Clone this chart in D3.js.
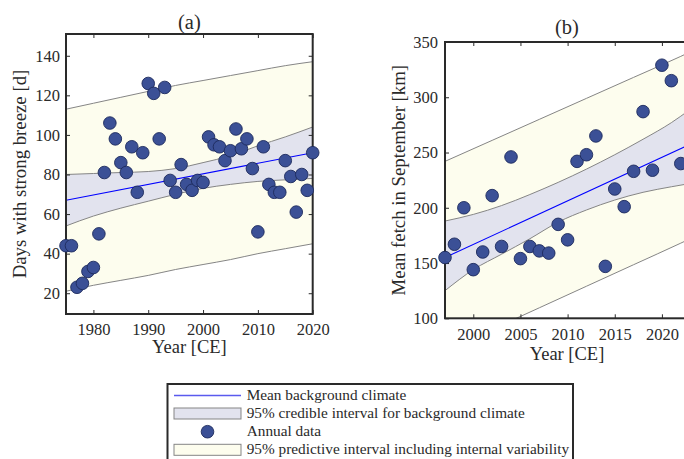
<!DOCTYPE html>
<html><head><meta charset="utf-8">
<script src="https://cdn.jsdelivr.net/npm/d3@7"></script>
<style>
body{margin:0;background:#fff}
svg{display:block}
text{font-family:"Liberation Serif","Times New Roman",serif}
</style>
</head><body>
<svg id="c" width="684" height="459"></svg>
<script>
// ---------- Panel (a): days with strong breeze ----------
const yearsA = [1975,1976,1977,1978,1979,1980,1981,1982,1983,1984,1985,1986,1987,1988,1989,1990,1991,1992,1993,1994,1995,1996,1997,1998,1999,2000,2001,2002,2003,2004,2005,2006,2007,2008,2009,2010,2011,2012,2013,2014,2015,2016,2017,2018,2019,2020];
const breezeDays = [44,44,23,25,31,33,50,81,106,98,86,81,94,71,91,126,121,98,124,77,71,85,75,72,77,76,99,95,94,87,92,103,93,98,83,51,94,75,71,71,87,79,61,80,72,91];
const meanYearsA = [1975, 2020];
const meanA = [67, 91];
const bandYearsA = [1975,1980,1985,1990,1995,2000,2005,2010,2015,2020];
const ciUpperA = [80,80.5,81,81.5,83,86,89.5,94.5,99,104];
const ciLowerA = [54,59,63,66.5,70,73,75,76.5,77.3,78];
const piUpperA = [113,116,119,122,125,127.5,130,132.5,135,137];
const piLowerA = [21,24,26.5,29,32,34.5,37,40,42.5,45];
const xTicksA = [1980,1990,2000,2010,2020];
const yTicksA = [20,40,60,80,100,120,140];

// ---------- Panel (b): mean fetch in September ----------
const yearsB = [1997,1998,1999,2000,2001,2002,2003,2004,2005,2006,2007,2008,2009,2010,2011,2012,2013,2014,2015,2016,2017,2018,2019,2020,2021,2022];
const fetchKm = [155,167,200,144,160,211,165,246,154,165,161,159,185,171,242,248,265,147,217,201,233,287,234,329,315,240];
const meanYearsB = [1997, 2023];
const meanB = [155, 257.5];
const bandYearsB = [1997,2000,2003,2006,2009,2012,2015,2018,2021,2023];
const ciUpperB = [188,194,202,212,223,235,248,262,277,289];
const ciLowerB = [125,144,158,172,187,198,207,214,219,222];
const bandYearsPB = [1997,2002,2007,2012,2017,2022,2023];
const piUpperB = [242,261,280,299,318,337,341];
const piLowerB = [71,90,109.5,129,148.5,168,172];
const xTicksB = [2000,2005,2010,2015,2020];
const yTicksB = [100,150,200,250,300,350];

// ---------- Legend ----------
const legendLabels = ["Mean background climate","95% credible interval for background climate","Annual data","95% predictive interval including internal variability"];

const COL = {
  pi: "#fdfdee", ci: "#e2e3ee", edge: "#858585", mean: "#0000ff",
  dot: "#3b5096", dotEdge: "#1d2a5c", frame: "#2a2a2a", text: "#2a2a2a"
};

const svg = d3.select("#c");

function drawPanel(p) {
  const x = d3.scaleLinear().domain(p.xDomain).range([p.left, p.right]);
  const y = d3.scaleLinear().domain(p.yDomain).range([p.bottom, p.top]);
  const g = svg.append("g");
  const clipId = "clip" + p.id;
  svg.append("clipPath").attr("id", clipId).append("rect")
    .attr("x", p.left).attr("y", p.top)
    .attr("width", p.right - p.left).attr("height", p.bottom - p.top);
  const bands = g.append("g").attr("clip-path", `url(#${clipId})`);

  const piRows = p.piYears.map((yr, i) => ({yr, lo: p.piLower[i], hi: p.piUpper[i]}));
  const ciRows = p.ciYears.map((yr, i) => ({yr, lo: p.ciLower[i], hi: p.ciUpper[i]}));
  const area = d3.area().x(d => x(d.yr)).y0(d => y(d.lo)).y1(d => y(d.hi)).curve(d3.curveMonotoneX);
  const lineHi = d3.line().x(d => x(d.yr)).y(d => y(d.hi)).curve(d3.curveMonotoneX);
  const lineLo = d3.line().x(d => x(d.yr)).y(d => y(d.lo)).curve(d3.curveMonotoneX);

  bands.append("path").datum(piRows).attr("d", area).attr("fill", COL.pi);
  bands.append("path").datum(ciRows).attr("d", area).attr("fill", COL.ci);
  [[piRows, lineHi], [piRows, lineLo], [ciRows, lineHi], [ciRows, lineLo]].forEach(([rows, ln]) => {
    bands.append("path").datum(rows).attr("d", ln).attr("fill", "none")
      .attr("stroke", COL.edge).attr("stroke-width", 1);
  });
  const meanRows = p.meanYears.map((yr, i) => ({yr, v: p.mean[i]}));
  bands.append("path").datum(meanRows)
    .attr("d", d3.line().x(d => x(d.yr)).y(d => y(d.v)))
    .attr("fill", "none").attr("stroke", COL.mean).attr("stroke-width", 1.1);

  // axes with inward ticks on all four sides
  const fs = 16.5;
  const styleAxis = a => {
    a.select(".domain").remove();
    a.attr("color", COL.frame).attr("font-family", '"Liberation Serif",serif').attr("font-size", fs);
    a.selectAll("text").attr("fill", COL.text);
    a.selectAll("line").attr("stroke-width", 1);
  };
  g.append("g").attr("transform", `translate(0,${p.bottom})`)
    .call(d3.axisBottom(x).tickValues(p.xTicks).tickFormat(d3.format("d")).tickSize(-4).tickPadding(p.xPad))
    .call(styleAxis);
  g.append("g").attr("transform", `translate(0,${p.top})`)
    .call(d3.axisTop(x).tickValues(p.xTicks).tickFormat("").tickSize(-4))
    .call(styleAxis);
  g.append("g").attr("transform", `translate(${p.left},0)`)
    .call(d3.axisLeft(y).tickValues(p.yTicks).tickFormat(d3.format("d")).tickSize(-4).tickPadding(p.yPad))
    .call(styleAxis);
  g.append("g").attr("transform", `translate(${p.right},0)`)
    .call(d3.axisRight(y).tickValues(p.yTicks).tickFormat("").tickSize(-4))
    .call(styleAxis);

  g.append("rect").attr("x", p.left).attr("y", p.top)
    .attr("width", p.right - p.left).attr("height", p.bottom - p.top)
    .attr("fill", "none").attr("stroke", COL.frame).attr("stroke-width", 2);

  // data points
  g.append("g").selectAll("circle").data(p.years.map((yr, i) => ({yr, v: p.values[i]})))
    .join("circle")
    .attr("cx", d => x(d.yr)).attr("cy", d => y(d.v)).attr("r", 6.3)
    .attr("fill", COL.dot).attr("stroke", COL.dotEdge).attr("stroke-width", 0.9);

  // labels
  g.append("text").attr("x", (p.left + p.labelRight) / 2).attr("y", p.titleY)
    .attr("text-anchor", "middle").attr("font-size", 20.5).attr("fill", COL.text).text(p.title);
  g.append("text").attr("x", (p.left + p.labelRight) / 2).attr("y", p.xLabelY)
    .attr("text-anchor", "middle").attr("font-size", 18.5).attr("fill", COL.text).text("Year [CE]");
  g.append("text").attr("transform", `translate(${p.yLabelX},${(p.top + p.bottom) / 2}) rotate(-90)`)
    .attr("text-anchor", "middle").attr("font-size", 18.8).attr("fill", COL.text).text(p.yLabel);
}

drawPanel({
  id: "a", left: 66, right: 312.7, top: 34, bottom: 314, labelRight: 312.7,
  xDomain: [1975, 2020], yDomain: [9.5, 151],
  years: yearsA, values: breezeDays,
  meanYears: meanYearsA, mean: meanA,
  ciYears: bandYearsA, ciUpper: ciUpperA, ciLower: ciLowerA,
  piYears: bandYearsA, piUpper: piUpperA, piLower: piLowerA,
  xTicks: xTicksA, yTicks: yTicksA, xPad: 9, yPad: 6,
  title: "(a)", titleY: 28.5, xLabelY: 353, yLabelX: 26,
  yLabel: "Days with strong breeze [d]"
});

drawPanel({
  id: "b", left: 445, right: 690.2, top: 42, bottom: 318.3, labelRight: 689,
  xDomain: [1997, 2023], yDomain: [100, 350],
  years: yearsB, values: fetchKm,
  meanYears: meanYearsB, mean: meanB,
  ciYears: bandYearsB, ciUpper: ciUpperB, ciLower: ciLowerB,
  piYears: bandYearsPB, piUpper: piUpperB, piLower: piLowerB,
  xTicks: xTicksB, yTicks: yTicksB, xPad: 10, yPad: 7,
  title: "(b)", titleY: 33.8, xLabelY: 360, yLabelX: 404.5,
  yLabel: "Mean fetch in September [km]"
});

// legend
const lg = svg.append("g");
lg.append("rect").attr("x", 167.5).attr("y", 384).attr("width", 405.5).attr("height", 80)
  .attr("fill", "#fff").attr("stroke", COL.frame).attr("stroke-width", 2);
const rowY = [395.5, 413.5, 431.7, 449.8];
lg.append("line").attr("x1", 174).attr("x2", 241).attr("y1", rowY[0]).attr("y2", rowY[0])
  .attr("stroke", "#5a5aee").attr("stroke-width", 1.6);
lg.append("rect").attr("x", 174).attr("y", rowY[1] - 5.5).attr("width", 67).attr("height", 11)
  .attr("fill", COL.ci).attr("stroke", COL.edge).attr("stroke-width", 1);
lg.append("circle").attr("cx", 207.5).attr("cy", rowY[2]).attr("r", 6.3)
  .attr("fill", COL.dot).attr("stroke", COL.dotEdge).attr("stroke-width", 0.9);
lg.append("rect").attr("x", 174).attr("y", rowY[3] - 5.5).attr("width", 67).attr("height", 11)
  .attr("fill", COL.pi).attr("stroke", COL.edge).attr("stroke-width", 1);
lg.selectAll("text.lab").data(legendLabels).join("text").attr("class", "lab")
  .attr("x", 246.7).attr("y", (d, i) => rowY[i] + 4.5)
  .attr("font-size", 15.3).attr("fill", COL.text).text(d => d);
</script>
</body></html>
